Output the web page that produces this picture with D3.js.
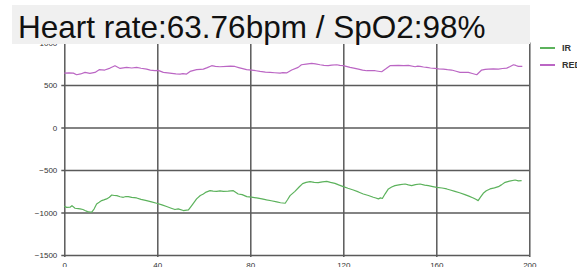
<!DOCTYPE html>
<html>
<head>
<meta charset="utf-8">
<script src="https://cdn.jsdelivr.net/npm/d3@7"></script>
<style>
  body { margin: 0; background: #fff; }
  svg { display: block; font-family: 'Liberation Sans', Arial, sans-serif; }
</style>
</head>
<body>
<svg></svg>
<script>
const w = 577;
const h = 267;

const title = 'Heart rate:63.76bpm / SpO2:98%';
const xTicks = [0, 40, 80, 120, 160, 200];
const yTicks = [-1500, -1000, -500, 0, 500, 1000];
const seriesNames = ['IR', 'RED'];
const seriesColors = ['#5cb25c', '#bb66c4'];

// IR samples: [sample, value]
const irData = [
  [0, -926], [1, -940], [2.5, -938], [3.3, -919], [4.6, -950], [6, -955], [6.8, -958],
  [8, -965], [8.9, -977], [10, -990], [10.8, -993], [11.8, -995], [12.8, -960],
  [13.9, -899], [15, -880], [16.1, -860], [17, -852], [18.2, -840], [19.4, -820],
  [20.4, -794], [21.5, -800], [22.6, -802], [24, -815], [25.4, -821], [26.5, -812],
  [27.5, -813], [29, -822], [31.1, -829], [33, -845], [35.4, -860], [37.5, -875],
  [39.7, -891], [42, -910], [44, -930], [46, -950], [47.6, -965], [49, -958],
  [51.2, -977], [53.4, -970], [54.8, -919], [56.9, -840], [58.5, -800], [59.8, -782],
  [61, -760], [62.7, -743], [64, -748], [65.5, -751], [67, -745], [68.4, -751],
  [70.5, -748], [72.7, -743], [74.8, -782], [76.5, -790], [78.5, -813], [80.5, -820],
  [82.7, -829], [85, -840], [87, -852], [89, -862], [91.4, -876], [93, -885],
  [95, -891], [96, -850], [97.1, -802], [99.2, -751], [101, -700], [102.5, -660],
  [104, -645], [105.7, -637], [107.5, -645], [109.2, -649], [111, -640], [112.9, -633],
  [114.5, -645], [116.4, -657], [118, -675], [120, -696], [122, -715], [124.3, -735],
  [126.5, -758], [128.6, -782], [130.8, -800], [132.9, -821], [134, -830], [135.1, -840],
  [136, -828], [136.8, -835], [138, -780], [139.4, -723], [140.8, -700], [142.2, -684],
  [144.5, -672], [146.6, -665], [148, -675], [149.4, -684], [151, -672], [153, -665],
  [155, -678], [156.6, -684], [158.5, -695], [160.2, -704], [162.5, -712], [164.5, -723],
  [166, -735], [168, -751], [170, -768], [172.3, -790], [174, -808], [175.9, -829],
  [177, -845], [178, -860], [179, -820], [180.2, -774], [181.5, -745], [183.1, -723],
  [185, -710], [186.7, -696], [188, -675], [189.6, -645], [191.5, -630], [193.9, -618],
  [195.3, -628], [196.7, -626]
];

// RED samples: [sample, value]
const redData = [
  [0, 640], [2, 642], [3.9, 640], [5.3, 621], [7, 630], [8.9, 648], [11, 637],
  [13.2, 648], [15, 680], [17.4, 676], [19.7, 699], [21.8, 727], [24, 695],
  [26.8, 707], [29, 700], [31.1, 707], [33, 697], [35.4, 687], [37, 675], [39, 668],
  [40.4, 672], [42.6, 648], [44.5, 642], [46.2, 637], [48, 632], [49.8, 629],
  [51, 633], [52.6, 629], [54.1, 660], [56.9, 680], [58.5, 684], [59.8, 687],
  [61.5, 705], [63.4, 727], [65, 720], [66.9, 715], [69.8, 719], [71.5, 722],
  [73.4, 718], [75, 705], [76.3, 695], [78.4, 680], [80.6, 676], [82.5, 668],
  [84.2, 660], [86.5, 652], [88.5, 648], [90.5, 644], [92.8, 640], [94, 645],
  [95.6, 642], [97.8, 676], [100.6, 707], [102, 738], [104, 745], [106.4, 754],
  [108, 748], [110, 738], [111.7, 732], [113.5, 727], [115, 733], [117.2, 738],
  [118.5, 730], [120, 727], [122.9, 707], [124.5, 698], [126.5, 687], [128.3, 675],
  [130.1, 668], [132, 670], [133.7, 668], [135, 662], [136.5, 656], [138.3, 690],
  [140.1, 727], [143.7, 730], [146, 728], [148, 730], [150.9, 715], [152, 722],
  [153, 720], [154.5, 712], [155.9, 707], [157.5, 700], [159.4, 695], [161, 690],
  [163, 687], [164.8, 680], [166.6, 676], [168.5, 662], [170.2, 648], [172, 650],
  [173.8, 648], [175.5, 635], [177.4, 621], [178.5, 650], [179.5, 676], [181, 683],
  [182.4, 687], [184.5, 690], [186.7, 687], [188.5, 694], [190.3, 699], [191.8, 718],
  [193.2, 738], [194.2, 730], [195.3, 719], [197, 719]
];

const svg = d3.select('svg').attr('width', w).attr('height', h);

const xScale = d3.scaleLinear().domain([0, 200]).range([64.3, 529.3]);
const yScale = d3.scaleLinear().domain([-1500, 1000]).range([255, 42.5]);

// grid + axes
const yAxis = d3
  .axisLeft(yScale)
  .tickValues(yTicks)
  .tickFormat(d3.format('d'))
  .tickSizeInner(-(xScale(200) - xScale(0) + 3))
  .tickSizeOuter(0)
  .tickPadding(4);
const gy = svg.append('g').attr('transform', `translate(${xScale(0) - 3},0)`).call(yAxis);

const xAxis = d3
  .axisBottom(xScale)
  .tickValues(xTicks)
  .tickFormat(d3.format('d'))
  .tickSizeInner(-(yScale(-1500) - yScale(1000) + 2))
  .tickSizeOuter(0)
  .tickPadding(5);
const gx = svg.append('g').attr('transform', `translate(0,${yScale(-1500) + 2})`).call(xAxis);

[gx, gy].forEach(g => {
  g.select('.domain').remove();
  g.selectAll('.tick line').attr('stroke', '#5a5a5a').attr('stroke-width', 1.5);
  g.selectAll('.tick text')
    .attr('fill', '#333')
    .style('font-size', '8px')
    .style('font-family', "'Liberation Sans', Arial, sans-serif");
});

const line = d3
  .line()
  .x(d => xScale(d[0]))
  .y(d => yScale(d[1]));

[irData, redData].forEach((data, i) => {
  svg
    .append('path')
    .datum(data)
    .attr('fill', 'none')
    .attr('stroke', seriesColors[i])
    .attr('stroke-width', 1.2)
    .attr('stroke-linejoin', 'round')
    .attr('d', line);
});

// title banner
svg
  .append('rect')
  .attr('x', 12)
  .attr('y', 5)
  .attr('width', 518)
  .attr('height', 39)
  .attr('fill', '#f0f0f0');
svg
  .append('text')
  .text(title)
  .attr('x', 18)
  .attr('y', 38)
  .attr('fill', '#111')
  .style('font-size', '31.5px');

// legend
seriesNames.forEach((name, i) => {
  const ly = 48 + i * 17;
  svg
    .append('line')
    .attr('x1', 540)
    .attr('x2', 555)
    .attr('y1', ly)
    .attr('y2', ly)
    .attr('stroke', seriesColors[i])
    .attr('stroke-width', 2);
  svg
    .append('text')
    .text(name)
    .attr('x', 562)
    .attr('y', ly + 3)
    .attr('fill', '#333')
    .style('font-size', '9px')
    .style('font-weight', 'bold');
});
</script>
</body>
</html>
